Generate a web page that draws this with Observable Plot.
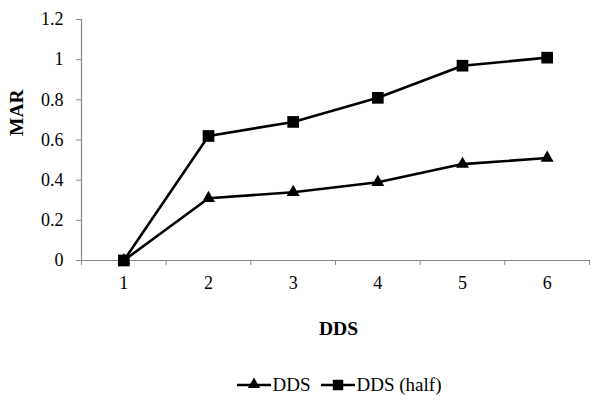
<!DOCTYPE html>
<html>
<head>
<meta charset="utf-8">
<script src="https://cdn.jsdelivr.net/npm/d3@7"></script>
<script src="https://cdn.jsdelivr.net/npm/@observablehq/plot@0.6"></script>
<style>
  html, body { margin: 0; padding: 0; background: white; font-family: 'Liberation Serif', serif; }
  #chart { width: 600px; height: 408px; font-family: 'Liberation Serif', serif; }
  #chart svg, #chart svg text, #chart svg g { font-family: 'Liberation Serif', serif !important; }
  #legend { display: flex; justify-content: center; align-items: center; height: 50px; box-sizing: border-box; font-size: 19px; color: black; padding-left: 78px; font-family: 'Liberation Serif', serif; }
  .item { display: flex; align-items: center; margin: 0 5px; }
  .item svg { margin-right: 2px; }
</style>
</head>
<body>
<div id="chart"></div>
<script>
const categories = [1, 2, 3, 4, 5, 6];
const dds = [0, 0.31, 0.34, 0.39, 0.48, 0.51];
const ddsHalf = [0, 0.62, 0.69, 0.81, 0.97, 1.01];
const yTicks = [0, 0.2, 0.4, 0.6, 0.8, 1, 1.2];
const seriesNames = ["DDS", "DDS (half)"];
const seriesSymbols = ["triangle", "square"];
const xTitle = "DDS";
const yTitle = "MAR";

const data = categories.flatMap((c, i) => [
  {x: c, y: dds[i], s: seriesNames[0]},
  {x: c, y: ddsHalf[i], s: seriesNames[1]}
]);
const boundaries = [categories[0] - 0.5, ...categories.map(c => c + 0.5)];
const axisGray = "#868686";

const plot = Plot.plot({
  width: 600,
  height: 360,
  marginLeft: 81,
  marginRight: 11,
  marginTop: 19,
  marginBottom: 100,
  style: {fontSize: "18px", color: "black", background: "white"},
  x: {domain: [boundaries[0], boundaries[boundaries.length - 1]]},
  y: {domain: [0, 1.2]},
  marks: [
    Plot.axisY(yTicks, {tickSize: 5, tickPadding: 13, stroke: axisGray, fill: "black", tickFormat: d => String(d), label: null, fontSize: 18}),
    Plot.axisX(boundaries, {tickSize: 5, stroke: axisGray, tickFormat: () => "", label: null}),
    Plot.axisX(categories, {tickSize: 0, tickPadding: 16, fill: "black", label: null, fontSize: 18}),
    Plot.ruleY([0], {stroke: axisGray, strokeWidth: 1.2}),
    Plot.ruleX([boundaries[0]], {stroke: axisGray, strokeWidth: 1.2}),
    Plot.line(data, {x: "x", y: "y", z: "s", stroke: "black", strokeWidth: 2.6}),
    Plot.dot(data.filter(d => d.s === seriesNames[0]), {x: "x", y: "y", symbol: seriesSymbols[0], r: 4.8, fill: "black"}),
    Plot.dot(data.filter(d => d.s === seriesNames[1]), {x: "x", y: "y", symbol: seriesSymbols[1], r: 6.6, fill: "black"}),
    Plot.text([yTitle], {frameAnchor: "left", dx: -65, dy: -4, rotate: -90, fontWeight: "bold", fontSize: 19.5, fill: "black"}),
    Plot.text([xTitle], {frameAnchor: "bottom", dy: 74, dx: 3, fontWeight: "bold", fontSize: 19.5, fill: "black"})
  ]
});

const chart = document.getElementById("chart");
chart.appendChild(plot);

const legend = document.createElement("div");
legend.id = "legend";
seriesNames.forEach((name, i) => {
  const item = document.createElement("div");
  item.className = "item";
  const sym = d3.symbol().type(seriesSymbols[i] === "square" ? d3.symbolSquare : d3.symbolTriangle).size(seriesSymbols[i] === "square" ? 110 : 65)();
  item.innerHTML = `<svg width="34" height="16" viewBox="0 0 34 16"><line x1="0" x2="34" y1="8" y2="8" stroke="black" stroke-width="2.6"/><path d="${sym}" transform="translate(17,${seriesSymbols[i] === "square" ? 8 : 7.5})" fill="black"/></svg><span>${name}</span>`;
  legend.appendChild(item);
});
chart.appendChild(legend);
</script>
</body>
</html>
